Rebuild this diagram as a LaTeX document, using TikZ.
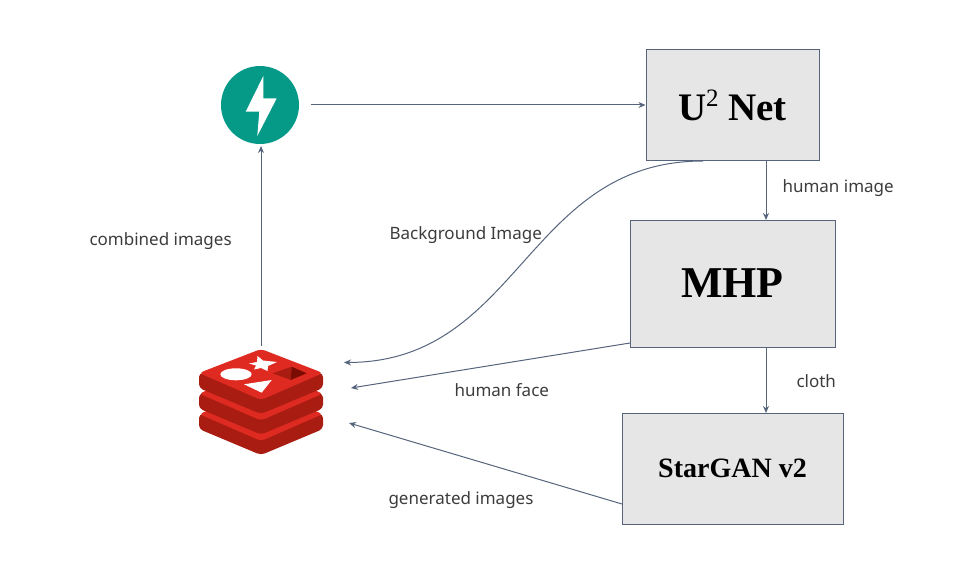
\documentclass[tikz,border=0pt]{standalone}
\usepackage{fontspec}
\setmainfont{Noto Sans}
\newfontfamily\boxfont{Liberation Serif}
\usetikzlibrary{arrows.meta}
\usetikzlibrary{positioning}

\definecolor{linegray}{HTML}{56647C}
\definecolor{boxgray}{HTML}{E6E6E6}
\definecolor{textgray}{HTML}{3C3C3C}
\definecolor{fastgreen}{HTML}{059A88}
\definecolor{redisred}{HTML}{DE2A20}
\definecolor{redisdark}{HTML}{A81C12}
\definecolor{redismaroon}{HTML}{7A0C04}

\newcommand{\redislayer}[1]{%
  \fill[redisdark,rounded corners=4pt,yshift=#1] (199,373) -- (199,388) -- (261,414) -- (323,388) -- (323,373) -- cycle;
  \fill[redisred,rounded corners=4pt,yshift=#1] (261,349) -- (199,373) -- (261,400) -- (323,373) -- cycle;
}

\begin{document}
\begin{tikzpicture}[x=1pt,y=-1pt,>={Stealth[length=7pt,width=6pt]},
  every path/.style={line width=1pt},
  main node/.style={rectangle,draw=linegray,fill=boxgray,line width=1pt,font=\boxfont\bfseries},
  label node/.style={text=textgray,font=\fontsize{17}{20}\selectfont,inner sep=0pt},
  conn/.style={->,draw=linegray}]

  \useasboundingbox (0,0) rectangle (966,564);

  % fastapi icon
  \node[circle,fill=fastgreen,minimum size=78pt,inner sep=0pt] (fastapi) at (260,105) {};
  \fill[white] (263.3,76) -- (245.7,111.7) -- (259.3,111.7) -- (257.3,136) -- (276.7,98.3) -- (263.3,98.3) -- cycle;

  % redis icon
  \node[minimum width=124pt,minimum height=106pt,inner sep=0pt] (redis) at (261,402) {};
  \redislayer{-41pt}
  \redislayer{-20.5pt}
  \redislayer{0pt}
  \fill[white] (257.5,356) -- (263,360.5) -- (277,362) -- (268,366) -- (267.5,371) -- (261,368) -- (254,369.5) -- (256,365.5) -- (249,363.5) -- (257,362) -- cycle;
  \fill[white] (236,374.3) ellipse (15.7pt and 6pt);
  \fill[white] (271.7,380) -- (244,384.3) -- (261.7,392.7) -- cycle;
  \fill[redisdark] (272.7,373.3) -- (291.7,366.7) -- (290.7,380) -- cycle;
  \fill[redismaroon] (291.7,366.7) -- (306.7,373.3) -- (290.7,380) -- cycle;

  % boxes
  \node[main node,minimum width=173pt,minimum height=111pt] (unet) at (732.5,105.5)
    {\fontsize{39}{42}\selectfont U\raisebox{.36em}{\fontsize{25}{25}\selectfont\mdseries 2} Net};
  \node[main node,minimum width=205pt,minimum height=127pt] (mhp) at (732.5,283.5)
    {\fontsize{44}{46}\selectfont MHP};
  \node[main node,minimum width=221pt,minimum height=111pt] (stargan) at (732.5,468.5)
    {\fontsize{28}{30}\selectfont StarGAN v2};

  % free ends
  \coordinate (fastout) at (311,105);
  \coordinate (redisout) at (261,346);
  \coordinate (fastin) at (261,146);
  \coordinate (bgstart) at (703,161);
  \coordinate (bgend) at (344,362.5);
  \coordinate (facestart) at (630,343);
  \coordinate (faceend) at (351,388);
  \coordinate (genstart) at (622,504);
  \coordinate (genend) at (349,423);
  \coordinate (unetout) at (766,161);
  \coordinate (mhpin) at (766,220);
  \coordinate (mhpout) at (766,347);
  \coordinate (starin) at (766,413);

  \draw[conn] (fastout) -- (unet.west |- fastout);
  \draw[conn] (redisout) -- (fastin);
  \draw[conn] (unetout) -- (mhpin);
  \draw[conn] (mhpout) -- (starin);
  \draw[conn] (bgstart) .. controls (526,161) and (520,362) .. (bgend);
  \draw[conn] (facestart) -- (faceend);
  \draw[conn] (genstart) -- (genend);

  % labels
  \node[label node,anchor=west] (l1) at (782,188.5) {human image};
  \node[label node,anchor=west] (l2) at (796,381) {cloth};
  \node[label node,anchor=west] (l3) at (89,241.5) {combined images};
  \node[label node,anchor=west] (l4) at (389,235.5) {Background Image};
  \node[label node,anchor=west] (l5) at (454,390) {human face};
  \node[label node,anchor=west] (l6) at (388,500.5) {generated images};

\end{tikzpicture}
\end{document}
